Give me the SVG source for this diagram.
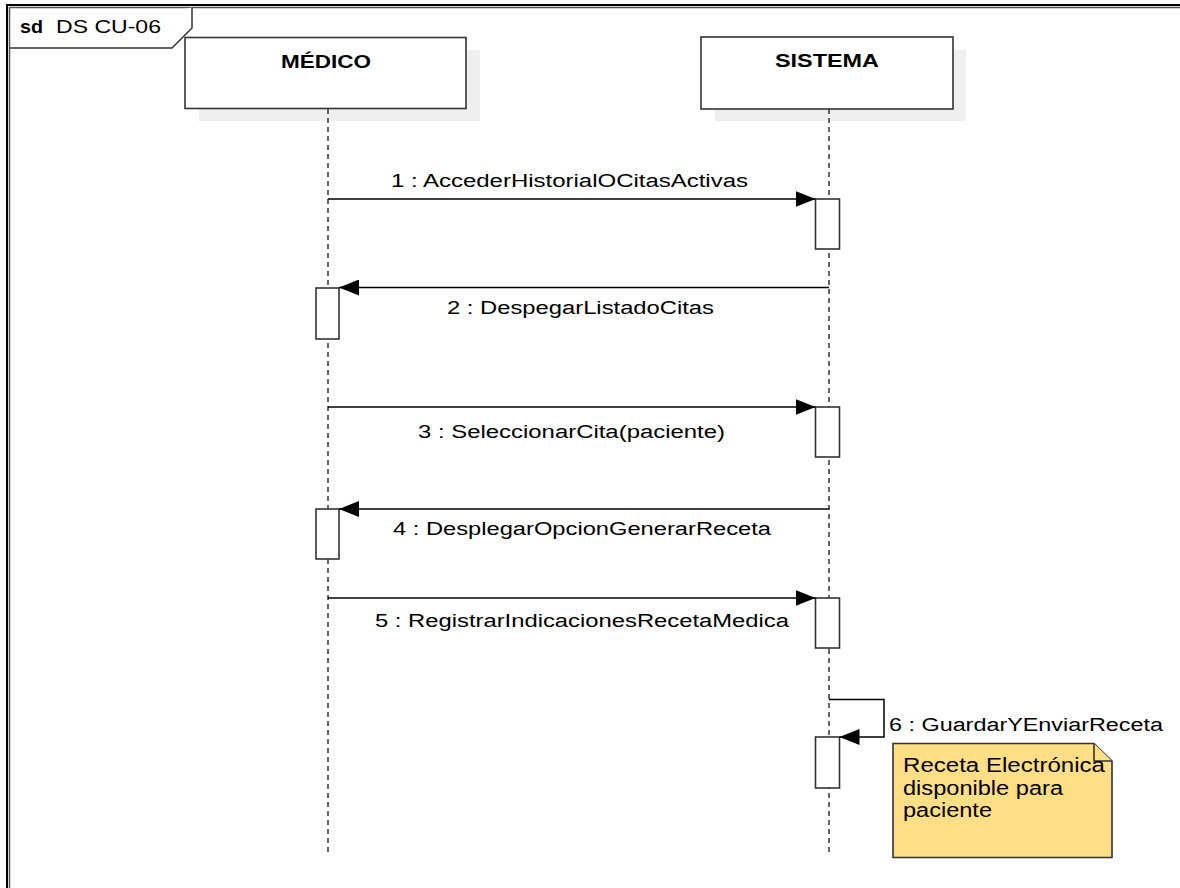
<svg xmlns="http://www.w3.org/2000/svg" width="1180" height="888" viewBox="0 0 1180 888">
  <style>
    .frame { fill: none; stroke: #000; stroke-width: 2; }
    .frame-in { fill: none; stroke: #555; stroke-width: 1.5; }
    .tab { fill: #fff; stroke: #333; stroke-width: 1.5; }
    .head { fill: #fff; stroke: #333; stroke-width: 1.6; }
    .shadow { fill: #efefef; stroke: none; }
    .life { fill: none; stroke: #333; stroke-width: 1.5; stroke-dasharray: 5 4; }
    .act { fill: #fff; stroke: #333; stroke-width: 1.6; }
    .msg { fill: none; stroke: #000; stroke-width: 1.5; }
    .note { fill: #ffdf85; stroke: #333; stroke-width: 1.6; }
    .t { font-family: "Liberation Sans", Arial, sans-serif; fill: #000; }
    .title { font-size: 18px; }
    .name { font-size: 18px; font-weight: bold; }
    .lbl { font-size: 18px; }
    .ntxt { font-size: 20px; }
  </style>
  <defs>
    <marker id="arrow" markerUnits="userSpaceOnUse" markerWidth="20" markerHeight="16" refX="20" refY="8" orient="auto">
      <path d="M0,0 L20,8 L0,16 z" fill="#000"/>
    </marker>
  </defs>

  <rect width="1180" height="888" fill="#fff"/>

  <!-- sequence frame -->
  <g id="frame">
    <path class="frame" d="M7,888 V5 H1180"/>
    <path class="frame-in" d="M9.5,888 V7.5 H1180"/>
    <path class="tab" d="M9.5,48 H172 L192,28 V7.5"/>
    <text class="t title" x="20" y="33" font-weight="bold" textLength="23" lengthAdjust="spacingAndGlyphs">sd</text>
    <text class="t title" x="56" y="33" textLength="105" lengthAdjust="spacingAndGlyphs">DS CU-06</text>
  </g>

  <!-- lifeline MÉDICO -->
  <g id="medico">
    <rect class="shadow" x="199" y="50" width="281" height="71"/>
    <rect class="head" x="185" y="37.5" width="281" height="71"/>
    <text class="t name" x="281" y="68" textLength="90" lengthAdjust="spacingAndGlyphs">MÉDICO</text>
    <line class="life" x1="328" y1="109" x2="328" y2="856"/>
    <rect class="act" x="316" y="288" width="23" height="51"/>
    <rect class="act" x="316" y="509" width="23" height="50"/>
  </g>

  <!-- lifeline SISTEMA -->
  <g id="sistema">
    <rect class="shadow" x="715" y="50" width="251" height="71"/>
    <rect class="head" x="701" y="37" width="252" height="72"/>
    <text class="t name" x="775" y="67" textLength="104" lengthAdjust="spacingAndGlyphs">SISTEMA</text>
    <line class="life" x1="829" y1="109" x2="829" y2="856"/>
    <rect class="act" x="815.5" y="199" width="24" height="50"/>
    <rect class="act" x="815.5" y="407" width="24" height="50"/>
    <rect class="act" x="815.5" y="598" width="24" height="50"/>
    <rect class="act" x="815.5" y="737" width="24" height="51"/>
  </g>

  <!-- messages -->
  <g id="connectors">
    <line class="msg" x1="328" y1="199" x2="815.5" y2="199" marker-end="url(#arrow)"/>
    <text class="t lbl" x="391" y="187" textLength="357" lengthAdjust="spacingAndGlyphs">1 : AccederHistorialOCitasActivas</text>

    <line class="msg" x1="829" y1="287.5" x2="339" y2="287.5" marker-end="url(#arrow)"/>
    <text class="t lbl" x="447" y="314" textLength="267" lengthAdjust="spacingAndGlyphs">2 : DespegarListadoCitas</text>

    <line class="msg" x1="328" y1="407" x2="815.5" y2="407" marker-end="url(#arrow)"/>
    <text class="t lbl" x="418" y="438" textLength="307" lengthAdjust="spacingAndGlyphs">3 : SeleccionarCita(paciente)</text>

    <line class="msg" x1="829" y1="509" x2="339" y2="509" marker-end="url(#arrow)"/>
    <text class="t lbl" x="393" y="535" textLength="378" lengthAdjust="spacingAndGlyphs">4 : DesplegarOpcionGenerarReceta</text>

    <line class="msg" x1="328" y1="598" x2="815.5" y2="598" marker-end="url(#arrow)"/>
    <text class="t lbl" x="375" y="627" textLength="414" lengthAdjust="spacingAndGlyphs">5 : RegistrarIndicacionesRecetaMedica</text>

    <path class="msg" d="M829,699.5 H884 V737 H839.5" marker-end="url(#arrow)"/>
    <text class="t lbl" x="889" y="731" textLength="274" lengthAdjust="spacingAndGlyphs">6 : GuardarYEnviarReceta</text>
  </g>

  <!-- note -->
  <g id="note">
    <path class="note" d="M893,743.5 H1094 L1112,761 V857.5 H893 z"/>
    <path class="note" d="M1094,743.5 V761 H1112" fill="none"/>
    <text class="t ntxt" x="903" y="772" textLength="202" lengthAdjust="spacingAndGlyphs">Receta Electrónica</text>
    <text class="t ntxt" x="903" y="794.5" textLength="160" lengthAdjust="spacingAndGlyphs">disponible para</text>
    <text class="t ntxt" x="903" y="817" textLength="89" lengthAdjust="spacingAndGlyphs">paciente</text>
  </g>
</svg>
